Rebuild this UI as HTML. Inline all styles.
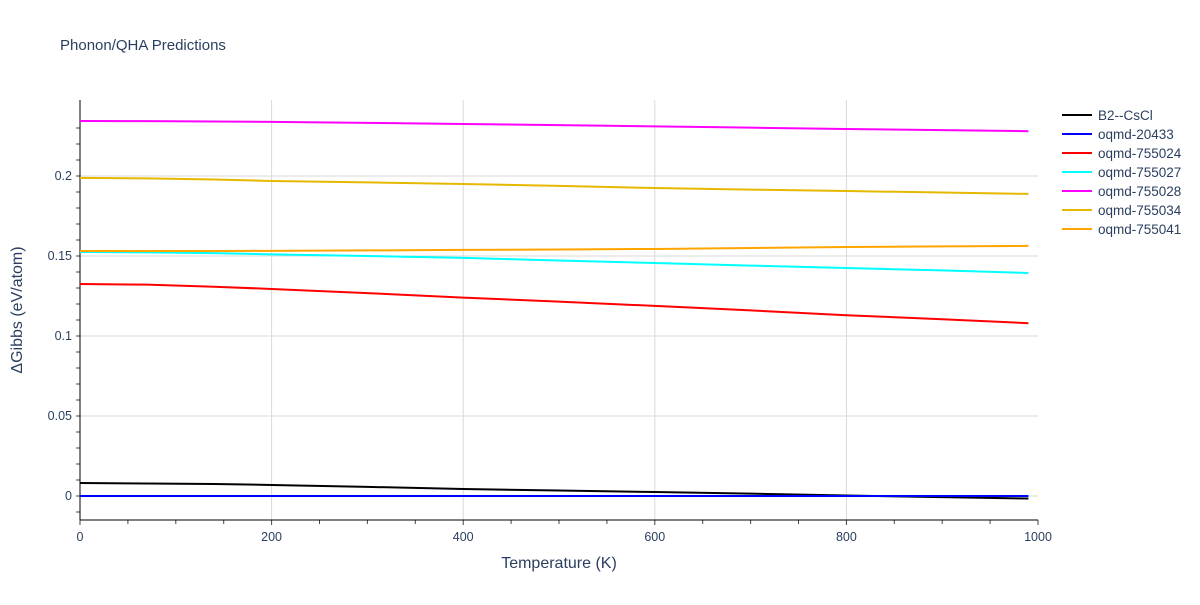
<!DOCTYPE html>
<html><head><meta charset="utf-8"><style>
body{margin:0;background:#fff;font-family:"Liberation Sans",sans-serif;}
svg text{font-family:"Liberation Sans",sans-serif;fill:#2a3f5f;}
</style></head><body>
<svg id="chart" width="1200" height="600" xmlns="http://www.w3.org/2000/svg">
<rect width="1200" height="600" fill="#fff"/>
<text x="60" y="50" font-size="15">Phonon/QHA Predictions</text>
<g id="grid"></g><g id="axes"></g><g id="series"></g><g id="legend"></g>
<text x="559" y="568" font-size="16" text-anchor="middle">Temperature (K)</text>
<text transform="translate(22,310) rotate(-90)" font-size="16" text-anchor="middle">ΔGibbs (eV/atom)</text>
</svg>
<script>
const temps=[0,70,140,200,300,400,500,600,700,800,900,990];
const seriesNames=["B2--CsCl","oqmd-20433","oqmd-755024","oqmd-755027","oqmd-755028","oqmd-755034","oqmd-755041"];
const seriesColors=["#000000","#0000ff","#ff0000","#00ffff","#ff00ff","#e6b800","#ffa500"];
const b2=[0.0081,0.0078,0.0075,0.0069,0.0057,0.0044,0.0034,0.0025,0.0015,0.0003,-0.0007,-0.0016];
const o20433=[0,0,0,0,0,0,0,0,0,0,0,0];
const o755024=[0.1325,0.1321,0.1308,0.1294,0.1268,0.1240,0.1215,0.1188,0.1160,0.1130,0.1105,0.1080];
const o755027=[0.1525,0.1523,0.1518,0.1510,0.1500,0.1488,0.1472,0.1456,0.1440,0.1425,0.1410,0.1394];
const o755028=[0.2344,0.2343,0.2341,0.2338,0.2332,0.2325,0.2318,0.2310,0.2302,0.2294,0.2287,0.2280];
const o755034=[0.1988,0.1985,0.1978,0.1969,0.1960,0.1950,0.1938,0.1925,0.1915,0.1906,0.1897,0.1888];
const o755041=[0.1531,0.1531,0.1531,0.1532,0.1535,0.1538,0.1541,0.1544,0.1550,0.1556,0.1560,0.1563];
const allSeries=[b2,o20433,o755024,o755027,o755028,o755034,o755041];
const xTicks=[0,200,400,600,800,1000];
const yTicks=[0,0.05,0.1,0.15,0.2];
const yTickLabels=["0","0.05","0.1","0.15","0.2"];
const NS="http://www.w3.org/2000/svg";
const L=80,R=1038,T=100,B=520;
const xs=v=>L+(v/1000)*(R-L);
const ys=v=>496-v*1600;
function mk(tag,attrs,parent){const e=document.createElementNS(NS,tag);for(const k in attrs)e.setAttribute(k,attrs[k]);parent.appendChild(e);return e;}
const grid=document.getElementById('grid'),axes=document.getElementById('axes'),ser=document.getElementById('series'),leg=document.getElementById('legend');
xTicks.forEach(t=>{
 if(t>0&&t<1000){const g=mk('line',{x1:xs(t),x2:xs(t),y1:T,y2:B,stroke:'#d9d9d9'},grid);
 
 }
 const tx=mk('text',{x:xs(t),y:541,'font-size':12.5,'text-anchor':'middle'},axes);tx.textContent=t;
 
 
});
for(let t=0;t<=1000;t+=50){mk('line',{x1:xs(t),x2:xs(t),y1:B,y2:B+(t%200===0?5:4),stroke:'#444'},axes);}
yTicks.forEach((t,i)=>{
 const g=mk('line',{x1:L,x2:R,y1:ys(t),y2:ys(t),stroke:'#d9d9d9'},grid);
 
 
 const tx=mk('text',{x:72,y:ys(t)+4,'font-size':12.5,'text-anchor':'end'},axes);tx.textContent=yTickLabels[i];
 
 
});
for(let v=-0.01;v<=0.24;v+=0.01){mk('line',{x1:L-4,x2:L,y1:ys(v),y2:ys(v),stroke:'#444'},axes);}
mk('line',{x1:L,x2:L,y1:T,y2:B,stroke:'#000'},axes);
mk('line',{x1:L,x2:R,y1:B,y2:B,stroke:'#000'},axes);
allSeries.forEach((s,i)=>{
 const p=mk('polyline',{points:s.map((v,j)=>xs(temps[j])+','+ys(v)).join(' '),fill:'none',stroke:seriesColors[i],'stroke-width':2},ser);
 
 
 const g=mk('g',{},leg);
 
 
 const y=115+i*19;
 mk('line',{x1:1062,x2:1092,y1:y,y2:y,stroke:seriesColors[i],'stroke-width':2},g);
 const tx=mk('text',{x:1098,y:y+5,'font-size':13.5},g);tx.textContent=seriesNames[i];
});
</script>
</body></html>
